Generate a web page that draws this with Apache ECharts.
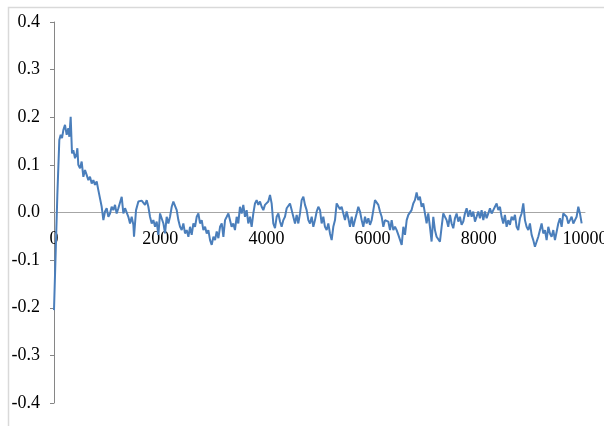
<!DOCTYPE html>
<html>
<head>
<meta charset="utf-8">
<script src="https://cdn.jsdelivr.net/npm/echarts@6/dist/echarts.min.js"></script>
<style>html,body{margin:0;padding:0;background:#fff;}#c{width:604px;height:426px;}</style>
</head>
<body>
<div id="c"></div>
<script>
var xs = [0,63,100,126,151,176,207,239,270,289,314,339,364,396,427,440,458,490,521,553,584,615,647,678,710,741,772,804,835,867,898,930,961,992,1024,1055,1086,1118,1149,1180,1212,1243,1275,1306,1338,1369,1400,1432,1463,1495,1507,1545,1589,
1620,1651,1683,1714,1746,1777,1808,1840,1871,1903,1934,1965,1997,2028,2060,2091,2122,2154,2185,2217,2248,2279,2311,2342,2374,2405,2436,2468,2499,2531,2562,2593,2625,2656,2688,2719,2750,2782,2813,2845,2876,2907,2939,2970,3002,3033,3064,3096,3127,3159,3190,3221,3253,3284,3316,
3345,3377,3408,3440,3471,3502,3534,3565,3597,3628,3659,3691,3722,3754,3785,3816,3848,3879,3911,3942,3973,4005,4036,4068,4099,4130,4162,4193,4225,4256,4287,4319,4350,4382,4413,4444,4476,4507,4539,4570,4601,4633,4664,4696,4727,4758,4790,4821,4853,4884,4915,4947,4978,5010,
5040,5072,5103,5135,5166,5197,5229,5260,5292,5323,5354,5386,5417,5449,5480,5511,5543,5574,5606,5637,5668,5700,5731,5763,5794,5825,5857,5888,5920,5951,5982,6014,6045,6076,6108,6139,6171,6202,6233,6265,6296,6328,6359,6390,6422,6453,6485,6516,6548,6579,6610,6642,6673,6705,
6734,6766,6797,6829,6860,6891,6923,6954,6986,7017,7048,7080,7111,7143,7174,7205,7237,7268,7300,7331,7362,7394,7425,7457,7488,7519,7551,7582,7614,7645,7676,7708,7739,7771,7802,7833,7865,7896,7928,7959,7990,8022,8053,8085,8116,8147,8179,8210,8242,8273,8304,8336,8367,8399,
8429,8461,8492,8524,8555,8586,8618,8649,8681,8712,8743,8775,8806,8838,8869,8900,8932,8963,8995,9026,9057,9089,9120,9152,9183,9214,9246,9277,9309,9340,9371,9403,9434,9466,9497,9528,9560,9591,9623,9654,9685,9717,9748,9780,9811,9842,9874,9905,9937];
var ys = [-0.205,0.037,0.152,0.163,0.156,0.173,0.184,0.163,0.177,0.159,0.201,0.124,0.131,0.114,0.124,0.135,0.100,0.093,0.107,0.075,0.089,0.079,0.068,0.075,0.061,0.068,0.058,0.065,0.047,0.051,0.012,-0.016,0.002,0.009,-0.009,-0.002,0.012,0.005,0.016,-0.002,0.009,0.012,0.033,-0.002,0.009,0.005,-0.009,-0.023,-0.009,-0.026,-0.051,0.005,0.023,
0.019,0.025,0.023,0.016,0.026,0.012,-0.009,-0.023,-0.016,-0.030,-0.019,-0.047,-0.002,0.002,-0.023,-0.044,-0.009,-0.023,-0.009,0.012,0.023,0.026,0.005,-0.016,-0.030,-0.037,-0.023,-0.044,-0.037,-0.051,-0.030,-0.047,-0.023,-0.030,-0.009,-0.002,-0.023,-0.016,-0.037,-0.030,-0.044,-0.037,-0.058,-0.068,-0.051,-0.058,-0.040,-0.054,-0.030,-0.023,-0.051,-0.016,-0.009,-0.002,-0.002,
-0.030,-0.023,-0.037,-0.009,-0.023,0.012,-0.002,0.016,-0.009,0.005,-0.023,-0.009,-0.030,-0.002,0.019,0.026,0.016,0.023,0.012,0.005,0.016,0.012,0.023,0.037,0.019,-0.023,-0.033,-0.009,-0.002,-0.019,-0.030,-0.016,-0.009,0.009,0.012,0.019,0.005,-0.009,-0.023,-0.005,-0.023,-0.002,0.026,0.033,0.016,0.005,-0.016,-0.023,-0.009,-0.030,-0.016,0.002,0.012,0.005,
-0.023,-0.009,-0.030,-0.037,-0.023,-0.044,-0.058,-0.030,-0.016,0.019,0.023,0.007,0.012,-0.002,-0.016,0.002,-0.012,-0.030,-0.009,-0.030,-0.016,-0.002,0.012,0.002,-0.016,-0.030,-0.009,-0.023,-0.012,-0.026,-0.016,0.005,0.026,0.030,0.016,0.002,-0.009,-0.030,-0.016,-0.012,-0.019,-0.037,-0.016,-0.037,-0.030,-0.037,-0.047,-0.051,-0.068,-0.030,-0.047,-0.016,-0.005,-0.002,
0.005,0.019,0.026,0.042,0.026,0.033,0.012,0.019,-0.002,-0.023,-0.002,-0.030,-0.061,-0.009,-0.037,-0.051,-0.047,-0.061,-0.030,-0.002,0.002,-0.016,-0.030,-0.005,-0.023,-0.033,-0.012,-0.002,-0.019,-0.009,-0.026,-0.019,-0.002,0.009,-0.009,0.005,-0.009,0.002,-0.019,-0.009,0.002,-0.012,0.005,-0.016,0.002,-0.012,-0.002,0.009,-0.002,0.005,0.012,0.019,0.005,0.012,
-0.009,-0.023,-0.005,-0.030,-0.016,-0.026,-0.009,-0.016,-0.005,-0.030,-0.037,-0.012,-0.002,0.019,-0.016,-0.030,-0.037,-0.023,-0.047,-0.058,-0.072,-0.075,-0.051,-0.037,-0.023,-0.044,-0.037,-0.058,-0.030,-0.044,-0.051,-0.037,-0.058,-0.054,-0.023,-0.012,-0.030,-0.002,0.002,-0.009,-0.023,-0.016,-0.009,-0.023,-0.016,-0.009,0.012,-0.002,-0.023];
var xTicks = [0, 2000, 4000, 6000, 8000, 10000];
var yTicks = [-0.4, -0.3, -0.2, -0.1, 0.0, 0.1, 0.2, 0.3, 0.4];

var data = xs.map(function (x, i) { return [x, ys[i]]; });
var font = 'Liberation Serif';
var gridTop = 22, gridBottom = 23, H = 426;
var zeroOffset = -(H - gridTop - gridBottom) / 2;
var chart = echarts.init(document.getElementById('c'));
chart.setOption({
  animation: false,
  backgroundColor: '#fff',
  graphic: [{
    type: 'rect', left: 6, top: 5, z: -10, silent: true,
    shape: { width: 700, height: 500 },
    style: { fill: 'none', stroke: '#d9d9d9', lineWidth: 1.5 }
  }],
  grid: { left: 54, right: 19, top: gridTop, bottom: gridBottom, containLabel: false, outerBoundsMode: 'none' },
  xAxis: {
    type: 'value', min: xTicks[0], max: xTicks[xTicks.length - 1], interval: 2000,
    offset: zeroOffset,
    axisLine: { onZero: false, lineStyle: { color: '#a6a6a6', width: 1 } },
    axisTick: { show: false },
    splitLine: { show: false },
    axisLabel: { margin: 18, color: '#000', fontFamily: font, fontSize: 18,
      formatter: function (v) { return String(v); } }
  },
  yAxis: {
    type: 'value', min: yTicks[0], max: yTicks[yTicks.length - 1], interval: 0.1,
    axisLine: { show: true, lineStyle: { color: '#868686', width: 1 } },
    axisTick: { show: true, length: 4, lineStyle: { color: '#868686' } },
    splitLine: { show: false },
    axisLabel: { margin: 14, color: '#000', fontFamily: font, fontSize: 18,
      formatter: function (v) { return v.toFixed(1); } }
  },
  series: [{
    type: 'line', data: data, showSymbol: false, symbol: 'none',
    lineStyle: { color: '#4a7ebb', width: 2 }
  }]
});
</script>
</body>
</html>
